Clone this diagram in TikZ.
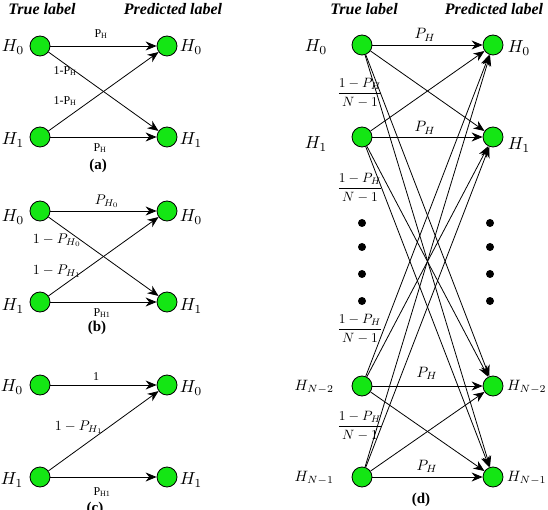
\documentclass[tikz,border=0pt]{standalone}
\usepackage{graphicx}
\usepackage{fontspec}
\setmainfont{Liberation Serif}
\usetikzlibrary{arrows.meta}
\definecolor{nodegreen}{RGB}{20,230,20}
\newcommand{\Hlab}[1]{\scalebox{1.75}{$#1$}}
\newcommand{\Nlab}[1]{\scalebox{1.5}{$#1$}}
\newcommand{\Mlab}[1]{\scalebox{1.4}{$#1$}}
\newcommand{\Dlab}[1]{\scalebox{1.5}{$#1$}}
\newcommand{\Flab}{\scalebox{1.35}{$\displaystyle\frac{1-P_H}{N-1}$}}
\begin{document}
\begin{tikzpicture}[x=1pt,y=-1pt,
  gdot/.style={circle,draw,fill=nodegreen,minimum size=20pt,inner sep=0pt,line width=0.8pt},
  edge/.style={line width=0.8pt,-{Stealth[length=11pt,width=9pt]}},
  hlab/.style={inner sep=0pt},
  head/.style={font=\fontsize{16}{18}\selectfont\bfseries\itshape,inner sep=0pt},
  elab/.style={font=\fontsize{12}{14}\selectfont,inner sep=0pt},
  mlab/.style={inner sep=0pt},
  captext/.style={font=\fontsize{15}{17}\selectfont\bfseries,inner sep=0pt},
  bdot/.style={circle,fill=black,minimum size=8pt,inner sep=0pt}]
\useasboundingbox (0,0) rectangle (548,510);
% headings
\node[head] (ta) at (42,9) {True label};
\node[head] (pa) at (173,9) {Predicted label};
\node[head] (td) at (364,9) {True label};
\node[head] (pd) at (494,9) {Predicted label};
% panel (a)
\node[gdot] (a0) at (40,46) {};
\node[gdot] (a1) at (40,137) {};
\node[gdot] (a2) at (167,46) {};
\node[gdot] (a3) at (167,137) {};
\node[hlab] (la0) at (13,47) {\Hlab{H_0}};
\node[hlab] (la1) at (13,140) {\Hlab{H_1}};
\node[hlab] (ra0) at (191,47) {\Hlab{H_0}};
\node[hlab] (ra1) at (191,140) {\Hlab{H_1}};
\draw[edge] (a0) -- (a2);
\draw[edge] (a0) -- (a3);
\draw[edge] (a1) -- (a2);
\draw[edge] (a1) -- (a3);
\node[elab] (ea1) at (101,34) {P\textsubscript{H}};
\node[elab] (ea2) at (65,71) {1-P\textsubscript{H}};
\node[elab] (ea3) at (65,101) {1-P\textsubscript{H}};
\node[elab] (ea4) at (100,148) {P\textsubscript{H}};
\node[captext] (capa) at (98,166) {(a)};
% panel (b)
\node[gdot] (b0) at (40,211) {};
\node[gdot] (b1) at (40,302) {};
\node[gdot] (b2) at (167,211) {};
\node[gdot] (b3) at (167,302) {};
\node[hlab] (lb0) at (13,217) {\Hlab{H_0}};
\node[hlab] (lb1) at (13,306) {\Hlab{H_1}};
\node[hlab] (rb0) at (191,217) {\Hlab{H_0}};
\node[hlab] (rb1) at (191,306) {\Hlab{H_1}};
\draw[edge] (b0) -- (b2);
\draw[edge] (b0) -- (b3);
\draw[edge] (b1) -- (b2);
\draw[edge] (b1) -- (b3);
\node[mlab] (eb1) at (107,201) {\Mlab{P_{H_0}}};
\node[mlab] (eb2) at (57,240) {\Mlab{1-P_{H_0}}};
\node[mlab] (eb3) at (57,271) {\Mlab{1-P_{H_1}}};
\node[elab] (eb4) at (102,313) {P\textsubscript{H1}};
\node[captext] (capb) at (97,328) {(b)};
% panel (c)
\node[gdot] (c0) at (40,385) {};
\node[gdot] (c1) at (40,477) {};
\node[gdot] (c2) at (167,385) {};
\node[gdot] (c3) at (167,477) {};
\node[hlab] (lc0) at (12,387) {\Hlab{H_0}};
\node[hlab] (lc1) at (12,480) {\Hlab{H_1}};
\node[hlab] (rc0) at (191,388) {\Hlab{H_0}};
\node[hlab] (rc1) at (191,480) {\Hlab{H_1}};
\draw[edge] (c0) -- (c2);
\draw[edge] (c1) -- (c2);
\draw[edge] (c1) -- (c3);
\node[elab] (ec1) at (96,377) {1};
\node[mlab] (ec2) at (79,427) {\Mlab{1-P_{H_1}}};
\node[elab] (ec3) at (102,492) {P\textsubscript{H1}};
\node[captext] (capc) at (95,509) {(c)};
% panel (d)
\node[gdot] (d0) at (362,45) {};
\node[gdot] (d1) at (362,137) {};
\node[gdot] (d2) at (362,386) {};
\node[gdot] (d3) at (362,477) {};
\node[gdot] (e0) at (493,45) {};
\node[gdot] (e1) at (493,137) {};
\node[gdot] (e2) at (493,386) {};
\node[gdot] (e3) at (493,477) {};
\node[hlab] (ld0) at (316,47) {\Hlab{H_0}};
\node[hlab] (ld1) at (316,144) {\Hlab{H_1}};
\node[hlab,anchor=east] (ld2) at (334,387) {\Nlab{H_{N-2}}};
\node[hlab,anchor=east] (ld3) at (334,478) {\Nlab{H_{N-1}}};
\node[hlab] (rd0) at (519,48) {\Hlab{H_0}};
\node[hlab] (rd1) at (519,145) {\Hlab{H_1}};
\node[hlab,anchor=west] (rd2) at (507,387) {\Nlab{H_{N-2}}};
\node[hlab,anchor=west] (rd3) at (507,478) {\Nlab{H_{N-1}}};
\foreach \s in {d0,d1,d2,d3}
  \foreach \t in {e0,e1,e2,e3}
    \draw[edge] (\s) -- (\t);
\node[mlab] (ed1) at (425,35) {\Dlab{P_H}};
\node[mlab] (ed2) at (425,128) {\Dlab{P_H}};
\node[mlab] (ed3) at (427,373) {\Dlab{P_H}};
\node[mlab] (ed4) at (427,466) {\Dlab{P_H}};
\node[mlab] (fd1) at (360,93) {\Flab};
\node[mlab] (fd2) at (360,188) {\Flab};
\node[mlab] (fd3) at (360,329) {\Flab};
\node[mlab] (fd4) at (360,426) {\Flab};
\foreach \y [count=\i] in {223,247,274,301} {
  \node[bdot] (ldot\i) at (362,\y) {};
  \node[bdot] (rdot\i) at (490,\y) {};
}
\node[captext] (capd) at (421,500) {(d)};
\end{tikzpicture}
\end{document}
